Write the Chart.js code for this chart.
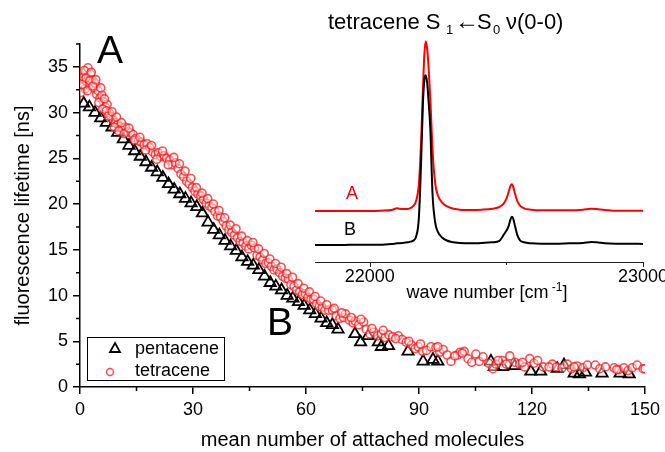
<!DOCTYPE html>
<html>
<head>
<meta charset="utf-8">
<script src="https://cdn.jsdelivr.net/npm/chart.js@4.4.1/dist/chart.umd.min.js"></script>
<style>
  html, body { margin: 0; padding: 0; background: #fff; }
  #wrap { position: relative; width: 665px; height: 452px; }
  #wrap canvas { position: absolute; left: 0; top: 0; }
</style>
</head>
<body>
<div id="wrap">
  <canvas id="mainChart" width="665" height="452"></canvas>
  <canvas id="insetChart" width="665" height="452"></canvas>
</div>
<script>
// --- data ---
const pentaceneX = [1.0, 2.5, 4.0, 5.5, 7.0, 8.5, 10.0, 11.5, 13.0, 14.5,
    16.0, 17.5, 19.0, 20.5, 22.0, 23.5, 25.0, 26.5, 28.0, 29.5,
    31.0, 32.5, 34.0, 35.5, 37.0, 38.5, 40.0, 41.5, 43.0, 44.5,
    46.0, 47.5, 49.0, 50.5, 52.0, 53.5, 55.0, 56.5, 58.0, 59.5,
    61.0, 62.5, 64.0, 65.5, 67.0, 68.5, 73.0, 74.5, 76.5, 79.2,
    80.0, 81.9, 87.1, 91.1, 93.7, 95.0, 109.1, 110.0, 112.2, 115.4,
    119.7, 122.3, 126.7, 128.5, 131.2, 132.6, 134.2, 138.6, 143.4, 145.8];
const pentaceneY = [31.0, 30.6, 30.0, 29.4, 28.9, 28.4, 27.8, 27.1, 26.4, 25.8,
    25.2, 24.6, 24.0, 23.5, 22.9, 22.2, 21.6, 21.1, 20.6, 20.1,
    19.7, 19.0, 18.0, 17.2, 16.6, 16.0, 15.4, 14.9, 14.2, 13.7,
    13.3, 12.8, 12.1, 11.4, 11.0, 10.6, 10.0, 9.7, 9.3, 8.9,
    8.4, 8.0, 7.5, 7.0, 6.8, 6.3, 5.8, 4.9, 5.6, 4.9,
    4.4, 4.5, 3.9, 2.8, 3.0, 2.8, 2.8, 2.2, 2.2, 2.3,
    1.7, 1.7, 2.0, 2.4, 1.5, 1.4, 1.6, 1.5, 1.5, 1.4];

const tetraceneX = [0.3, 0.5, 0.8, 1.0, 1.3, 1.5, 1.8, 2.1, 2.4, 2.8,
    3.2, 3.6, 4.0, 4.4, 4.8, 5.3, 5.8, 6.2, 6.7, 7.2,
    7.7, 8.2, 8.8, 9.4, 10.0, 10.6, 11.3, 12.0, 12.7, 13.4,
    14.1, 14.8, 15.5, 16.2, 17.0, 17.8, 18.5, 19.3, 20.0, 20.8,
    21.5, 22.3, 23.0, 23.8, 24.5, 25.3, 26.0, 26.8, 27.5, 28.3,
    29.0, 29.8, 30.5, 31.3, 32.0, 32.8, 33.5, 34.3, 35.0, 35.8,
    36.5, 37.3, 38.0, 38.8, 39.5, 40.3, 41.0, 41.8, 42.5, 43.3,
    44.0, 44.8, 45.5, 46.3, 47.0, 47.8, 48.5, 49.3, 50.0, 50.8,
    51.5, 52.3, 53.0, 53.8, 54.5, 55.3, 56.0, 56.8, 57.5, 58.3,
    59.0, 59.8, 60.5, 61.3, 62.0, 62.8, 63.5, 64.3, 65.0, 66.0,
    67.0, 68.0, 69.0, 70.0, 70.5, 71.5, 72.5, 73.1, 74.0, 75.3,
    76.0, 77.0, 78.0, 79.0, 80.0, 81.0, 82.0, 83.0, 84.5, 85.5,
    86.6, 88.0, 89.0, 89.8, 91.0, 92.0, 93.2, 94.5, 95.5, 96.4,
    97.5, 98.5, 100.2, 100.9, 102.0, 103.0, 104.0, 105.1, 106.0, 107.0,
    108.5, 109.6, 110.5, 112.2, 113.2, 114.1, 115.5, 116.7, 118.0, 119.4,
    120.5, 121.5, 123.0, 125.4, 126.5, 128.0, 129.4, 130.5, 132.0, 133.5,
    134.7, 136.8, 138.0, 141.8, 143.0, 144.4, 145.5, 146.6, 147.9, 149.5,
    0.2, 0.6, 1.1, 1.6, 2.0, 2.6, 3.0, 3.4, 4.2, 5.0,
    5.5, 6.0, 6.5, 7.0, 7.5, 8.5, 9.1, 9.7, 10.3, 11.0,
    11.7, 13.0, 14.5, 15.9, 17.4, 19.0, 20.4, 21.9, 23.4, 24.9,
    26.4, 27.9, 29.4, 30.9, 32.4, 33.9, 35.4, 36.9, 38.4, 39.9,
    41.4, 42.9, 44.4, 45.9, 47.4, 48.9, 50.4, 51.9, 53.4, 54.9,
    56.4, 57.9, 59.4, 60.9, 62.4, 63.9, 65.5, 67.5, 69.5, 72.0,
    74.6, 77.5, 80.5, 83.8, 87.3, 90.4, 95.0, 99.5, 101.5, 111.0,
    117.5, 124.5, 131.2, 139.5, 142.5, 150.0];
const tetraceneY = [33.6, 34.3, 32.9, 33.9, 32.6, 34.5, 33.4, 34.9, 33.0, 34.2,
    33.6, 32.7, 33.2, 32.0, 32.4, 31.6, 31.9, 31.2, 30.6, 30.9,
    30.0, 29.6, 29.2, 28.9, 28.7, 28.5, 28.3, 28.4, 27.9, 27.8,
    27.6, 27.2, 26.9, 26.8, 26.5, 26.6, 26.2, 25.7, 25.4, 25.6,
    25.2, 25.3, 25.0, 24.8, 24.3, 24.5, 23.9, 23.3, 23.0, 22.5,
    22.2, 21.8, 21.4, 21.1, 20.9, 20.5, 20.1, 19.8, 19.6, 19.2,
    18.7, 18.6, 18.1, 17.6, 17.2, 16.9, 16.6, 16.3, 15.9, 15.8,
    15.4, 15.1, 15.5, 15.2, 14.4, 14.2, 13.9, 13.5, 13.6, 13.2,
    12.8, 12.9, 12.5, 12.1, 11.9, 11.8, 11.2, 11.0, 10.6, 10.4,
    10.1, 10.2, 9.8, 9.6, 9.6, 9.1, 8.8, 8.7, 8.4, 8.4,
    8.4, 7.8, 7.5, 7.6, 8.0, 7.3, 7.0, 7.2, 6.8, 7.1,
    6.3, 5.8, 6.0, 5.6, 5.8, 5.4, 5.7, 5.5, 5.6, 5.2,
    4.9, 4.6, 4.2, 4.4, 3.9, 4.0, 4.4, 4.3, 3.8, 4.1,
    3.5, 2.8, 3.5, 3.8, 3.9, 3.1, 2.7, 3.6, 2.8, 3.3,
    2.6, 2.0, 2.5, 2.9, 2.5, 3.4, 2.7, 2.5, 2.2, 3.1,
    2.6, 2.9, 2.2, 2.5, 2.2, 2.1, 2.5, 2.0, 2.3, 2.1,
    2.4, 2.4, 2.0, 2.1, 1.9, 2.1, 1.8, 2.1, 2.4, 2.0,
    32.2, 33.1, 34.6, 33.8, 32.4, 33.5, 34.4, 32.9, 33.6, 31.1,
    32.7, 30.4, 31.5, 30.2, 29.6, 30.1, 28.4, 29.5, 28.0, 28.9,
    27.7, 28.3, 27.0, 27.3, 25.9, 26.4, 24.9, 25.8, 24.3, 25.1,
    24.4, 23.6, 22.8, 21.8, 21.2, 20.6, 20.0, 19.3, 18.5, 17.7,
    17.3, 16.5, 16.0, 15.8, 15.1, 14.6, 14.0, 13.5, 13.1, 12.4,
    12.0, 11.3, 10.8, 10.4, 9.9, 9.4, 9.0, 8.6, 8.1, 7.6,
    7.4, 6.4, 6.2, 5.3, 5.0, 4.7, 4.4, 3.4, 3.7, 2.9,
    2.7, 2.2, 2.2, 2.2, 1.9, 2.0];

// inset spectra (arbitrary units, A offset by +1)
const waveNumbers = [21800, 21850, 21900, 21950, 22000, 22040, 22080, 22100, 22120, 22140,
    22150, 22160, 22170, 22180, 22188, 22195, 22200, 22205, 22210, 22215,
    22222, 22230, 22240, 22250, 22265, 22280, 22300, 22330, 22370, 22410,
    22450, 22475, 22490, 22500, 22508, 22515, 22520, 22525, 22532, 22540,
    22550, 22565, 22590, 22630, 22680, 22730, 22780, 22810, 22830, 22860,
    22900, 22950, 23000];
const spectrumA = [1.00, 1.00, 1.00, 1.00, 1.00, 1.01, 1.03, 1.08, 1.06, 1.06,
    1.09, 1.15, 1.30, 1.80, 3.00, 4.60, 5.60, 6.00, 5.80, 5.30,
    4.30, 2.80, 1.80, 1.45, 1.25, 1.15, 1.08, 1.04, 1.03, 1.04,
    1.07, 1.12, 1.22, 1.36, 1.55, 1.74, 1.79, 1.72, 1.50, 1.30,
    1.16, 1.08, 1.04, 1.02, 1.02, 1.02, 1.04, 1.07, 1.06, 1.03,
    1.01, 1.01, 1.01];
const spectrumB = [0.00, 0.00, 0.00, 0.01, 0.01, 0.01, 0.03, 0.05, 0.06, 0.08,
    0.10, 0.13, 0.25, 0.80, 2.40, 4.20, 4.85, 5.00, 4.80, 4.30,
    3.40, 1.50, 0.65, 0.38, 0.22, 0.14, 0.09, 0.06, 0.05, 0.06,
    0.08, 0.12, 0.30, 0.42, 0.55, 0.75, 0.83, 0.78, 0.55, 0.30,
    0.14, 0.08, 0.05, 0.04, 0.04, 0.05, 0.06, 0.09, 0.08, 0.05,
    0.04, 0.04, 0.03];

const xMajorTicks = [0, 30, 60, 90, 120, 150];
const xMinorTicks = [15, 45, 75, 105, 135];
const yMajorTicks = [0, 5, 10, 15, 20, 25, 30, 35];
const yMinorTicks = [2.5, 7.5, 12.5, 17.5, 22.5, 27.5, 32.5, 37.5];
const insetMajorTicks = [22000, 23000];
const insetMinorTicks = [22500];

const FONT = '"Liberation Sans", Arial, sans-serif';
Chart.defaults.font.family = FONT;
Chart.defaults.color = '#000';

function toPoints(xs, ys) {
    return xs.map((x, i) => ({ x: x, y: ys[i] }));
}

// short minor tick marks, drawn through the scales
const minorTicksPlugin = {
    id: 'minorTicks',
    afterDraw(chart) {
        const ctx = chart.ctx;
        const xs = chart.scales.x, ys = chart.scales.y;
        ctx.save();
        ctx.strokeStyle = '#000';
        ctx.lineWidth = 1.5;
        ctx.beginPath();
        xMinorTicks.forEach(v => {
            const px = xs.getPixelForValue(v);
            ctx.moveTo(px, xs.top);
            ctx.lineTo(px, xs.top + 4);
        });
        yMinorTicks.forEach(v => {
            const py = ys.getPixelForValue(v);
            ctx.moveTo(ys.right, py);
            ctx.lineTo(ys.right - 4, py);
        });
        ctx.stroke();
        ctx.restore();
    }
};

// panel letters and the framed legend
const annotationsPlugin = {
    id: 'annotations',
    afterDraw(chart) {
        const ctx = chart.ctx;
        ctx.save();
        ctx.fillStyle = '#000';
        ctx.textBaseline = 'alphabetic';
        ctx.font = '39px ' + FONT;
        ctx.fillText('A', 97, 63);
        ctx.fillText('B', 267, 335);

        // legend box
        ctx.strokeStyle = '#000';
        ctx.lineWidth = 1;
        ctx.strokeRect(87.5, 337.5, 137, 43);
        const ds = chart.data.datasets;
        ctx.font = '18px ' + FONT;
        ctx.textBaseline = 'middle';
        // triangle
        ctx.beginPath();
        ctx.moveTo(115, 343);
        ctx.lineTo(120, 352);
        ctx.lineTo(110, 352);
        ctx.closePath();
        ctx.strokeStyle = ds[0].borderColor;
        ctx.lineWidth = 1.8;
        ctx.stroke();
        ctx.fillText(ds[0].label, 135, 349);
        // circle
        ctx.beginPath();
        ctx.arc(110, 372, 3.5, 0, Math.PI * 2);
        ctx.strokeStyle = ds[1].borderColor;
        ctx.lineWidth = 1.5;
        ctx.stroke();
        ctx.fillText(ds[1].label, 135, 371);
        ctx.restore();
    }
};

function drawMainChart() {
    const ctx = document.getElementById('mainChart').getContext('2d');
    new Chart(ctx, {
        type: 'scatter',
        data: {
            datasets: [{
                label: 'pentacene',
                data: toPoints(pentaceneX, pentaceneY),
                pointStyle: 'triangle',
                pointRadius: 6.5,
                borderColor: '#000',
                backgroundColor: 'rgba(0,0,0,0)',
                borderWidth: 1.8,
                order: 2
            }, {
                label: 'tetracene',
                data: toPoints(tetraceneX, tetraceneY),
                pointStyle: 'circle',
                pointRadius: 4,
                borderColor: 'rgba(255,20,20,0.75)',
                backgroundColor: 'rgba(255,255,255,0.45)',
                borderWidth: 1.6,
                order: 1
            }]
        },
        options: {
            responsive: false,
            animation: false,
            events: [],
            layout: { padding: { left: 0, right: 17, top: 44, bottom: 0 } },
            plugins: { legend: { display: false }, tooltip: { enabled: false } },
            scales: {
                x: {
                    type: 'linear',
                    min: 0, max: 150,
                    afterBuildTicks: s => { s.ticks = xMajorTicks.map(v => ({ value: v })); },
                    afterFit: s => { s.height = 452 - 387; },
                    grid: { drawOnChartArea: false, color: '#000', lineWidth: 1.5, tickLength: 7 },
                    border: { color: '#000', width: 1.5 },
                    ticks: { color: '#000', font: { size: 18 }, padding: 5, maxRotation: 0 },
                    title: {
                        display: true, text: 'mean number of attached molecules',
                        color: '#000', font: { size: 20 }, padding: { top: 0, bottom: 0 }
                    }
                },
                y: {
                    type: 'linear',
                    min: 0, max: 37.5,
                    afterBuildTicks: s => { s.ticks = yMajorTicks.map(v => ({ value: v })); },
                    afterFit: s => { s.width = 80; },
                    grid: { drawOnChartArea: false, color: '#000', lineWidth: 1.5, tickLength: 7 },
                    border: { color: '#000', width: 1.5 },
                    ticks: { color: '#000', font: { size: 18 }, padding: 5 },
                    title: {
                        display: true, text: 'fluorescence lifetime [ns]',
                        color: '#000', font: { size: 20 }, padding: { top: 11, bottom: 0 }
                    }
                }
            }
        },
        plugins: [minorTicksPlugin, annotationsPlugin]
    });
}

// draws text made of runs with sub/superscripts, returns total width
function drawRuns(ctx, runs, x, y, measureOnly) {
    let cx = x;
    runs.forEach(r => {
        ctx.font = r.size + 'px ' + FONT;
        if (r.x !== undefined) cx = r.x;
        if (!measureOnly) ctx.fillText(r.text, cx, y + (r.dy || 0));
        cx += ctx.measureText(r.text).width;
    });
    return cx - x;
}

const insetAxisPlugin = {
    id: 'insetAxis',
    afterDraw(chart) {
        const ctx = chart.ctx;
        const xs = chart.scales.x;
        const area = chart.chartArea;
        const y0 = area.bottom;
        ctx.save();
        ctx.strokeStyle = '#222';
        ctx.lineWidth = 1;
        ctx.beginPath();
        ctx.moveTo(area.left, y0 + 0.5);
        ctx.lineTo(area.right, y0 + 0.5);
        insetMajorTicks.forEach(v => {
            const px = Math.round(xs.getPixelForValue(v)) + 0.5;
            ctx.moveTo(px, y0);
            ctx.lineTo(px, y0 + 5);
        });
        insetMinorTicks.forEach(v => {
            const px = Math.round(xs.getPixelForValue(v)) + 0.5;
            ctx.moveTo(px, y0);
            ctx.lineTo(px, y0 + 3);
        });
        ctx.stroke();

        ctx.fillStyle = '#000';
        ctx.textBaseline = 'alphabetic';
        ctx.textAlign = 'center';
        ctx.font = '18px ' + FONT;
        insetMajorTicks.forEach(v => {
            ctx.fillText(String(v), xs.getPixelForValue(v), y0 + 20);
        });
        ctx.textAlign = 'left';

        // axis title with superscript
        const axisRuns = [
            { text: 'wave number [cm', size: 18 },
            { text: ' -1', size: 12, dy: -7 },
            { text: ']', size: 18 }
        ];
        const w = drawRuns(ctx, axisRuns, 0, 0, true);
        const cxTitle = (area.left + area.right) / 2 + 8;
        drawRuns(ctx, axisRuns, cxTitle - w / 2, y0 + 36);

        // spectrum title
        const titleRuns = [
            { text: 'tetracene S', size: 22, x: 328 },
            { text: '1', size: 13, dy: 5, x: 446 },
            { text: '\u2190', size: 24, x: 455 },
            { text: 'S', size: 22, x: 477 },
            { text: '0', size: 13, dy: 5, x: 493 },
            { text: '\u03BD(0-0)', size: 22, x: 506 }
        ];
        drawRuns(ctx, titleRuns, 328, 29);

        // trace labels
        ctx.textAlign = 'center';
        ctx.font = '18px ' + FONT;
        ctx.fillStyle = chart.data.datasets[0].borderColor;
        ctx.fillText('A', 352, 199);
        ctx.fillStyle = chart.data.datasets[1].borderColor;
        ctx.fillText('B', 350, 235);
        ctx.restore();
    }
};

function drawInsetChart() {
    const ctx = document.getElementById('insetChart').getContext('2d');
    new Chart(ctx, {
        type: 'line',
        data: {
            datasets: [{
                label: 'A',
                data: toPoints(waveNumbers, spectrumA),
                borderColor: '#ff0000',
                borderWidth: 2,
                pointRadius: 0,
                cubicInterpolationMode: 'monotone',
                fill: false,
                order: 2
            }, {
                label: 'B',
                data: toPoints(waveNumbers, spectrumB),
                borderColor: '#000000',
                borderWidth: 2,
                pointRadius: 0,
                cubicInterpolationMode: 'monotone',
                fill: false,
                order: 1
            }]
        },
        options: {
            responsive: false,
            animation: false,
            events: [],
            layout: { padding: { left: 315, right: 22, top: 31, bottom: 452 - 262 } },
            plugins: { legend: { display: false }, tooltip: { enabled: false } },
            scales: {
                x: { type: 'linear', min: 21800, max: 23000, display: false },
                y: { type: 'linear', min: -0.5, max: 6.3, display: false }
            }
        },
        plugins: [insetAxisPlugin]
    });
}

window.addEventListener('DOMContentLoaded', function() {
    drawMainChart();
    drawInsetChart();
});
</script>
</body>
</html>
